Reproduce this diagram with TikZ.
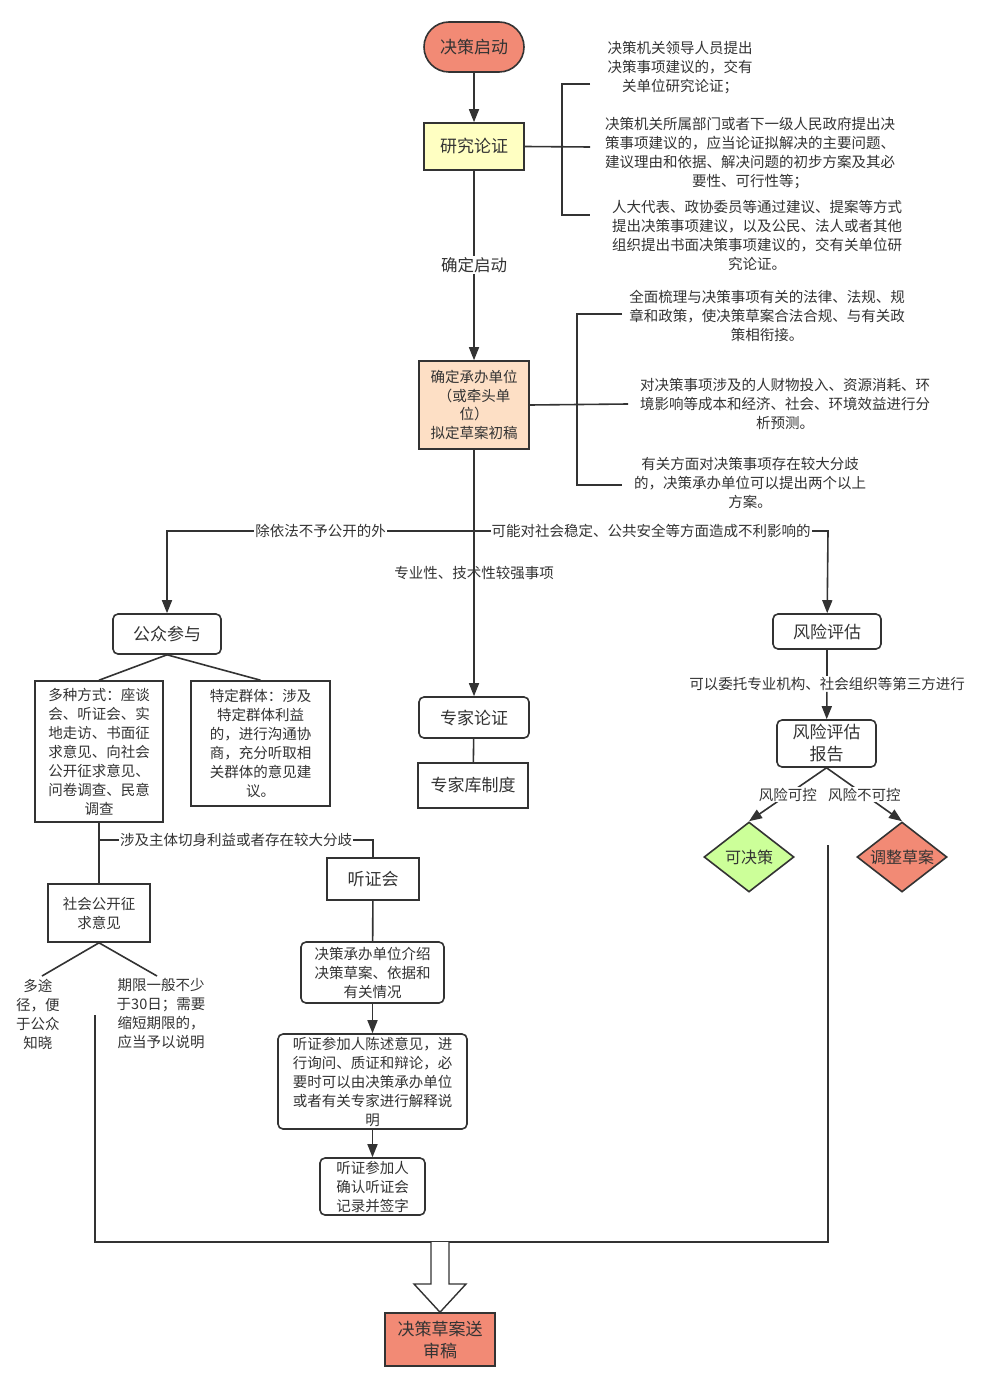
\documentclass[tikz,border=0pt]{standalone}
\usepackage{fontspec}
\setmainfont{Noto Sans CJK SC}
\usetikzlibrary{arrows.meta,shapes.geometric,calc}
\definecolor{salmon}{RGB}{242,138,117}
\definecolor{lyellow}{RGB}{255,255,194}
\definecolor{peach}{RGB}{253,223,197}
\definecolor{lgreen}{RGB}{204,255,153}
\definecolor{ink}{RGB}{51,51,51}
\newcommand\bodyfs{\fontsize{14.5}{19}\selectfont}
\newcommand\bigfs{\fontsize{17}{22}\selectfont}
\begin{document}
\begin{tikzpicture}[x=1pt,y=-1pt,
  line/.style={draw=ink,line width=1.6pt},
  arr/.style={line,-{Triangle[length=13pt,width=10pt]}},
  box/.style={line,fill=white,align=center,inner sep=0pt,text=ink,font=\bodyfs},
  rbox/.style={box,rounded corners=5pt},
  bigbox/.style={box,font=\bigfs},
  rbigbox/.style={rbox,font=\bigfs},
  txt/.style={align=center,inner sep=0pt,text=ink,font=\bodyfs},
  lab/.style={fill=white,inner sep=1pt,text=ink,font=\bodyfs},
  dia/.style={diamond,line,align=center,inner sep=0pt,text=ink,font=\fontsize{16}{20}\selectfont,minimum width=90pt,minimum height=70pt,aspect=1.29}
]
\useasboundingbox (0,0) rectangle (983,1380);
\fill[white] (0,0) rectangle (983,1380);

% top
\node[bigbox,fill=salmon,rounded corners=25pt,minimum width=100pt,minimum height=50pt] (start) at (474,47) {决策启动};
\node[bigbox,fill=lyellow,minimum width=100pt,minimum height=47pt] (yj) at (474,146.5) {研究论证};
\draw[arr] (start) -- (yj);

\coordinate (b1t) at (562,84);
\coordinate (b1b) at (562,215);
\coordinate (e1t) at (590,84);
\coordinate (e1m) at (590,147);
\coordinate (e1b) at (590,215);
\draw[line] (e1t) -- (b1t) -- (b1b) -- (e1b);
\draw[line] (yj.east) -- (e1m);
\node[txt] (t1) at (680,68) {决策机关领导人员提出\\决策事项建议的，交有\\关单位研究论证；};
\node[txt] (t2) at (750,153.5) {决策机关所属部门或者下一级人民政府提出决\\策事项建议的，应当论证拟解决的主要问题、\\建议理由和依据、解决问题的初步方案及其必\\要性、可行性等；};
\node[txt] (t3) at (757,235.5) {人大代表、政协委员等通过建议、提案等方式\\提出决策事项建议，以及公民、法人或者其他\\组织提出书面决策事项建议的，交有关单位研\\究论证。};

\node[lab,font=\fontsize{16.5}{20}\selectfont] (qd) at (474,265) {确定启动};
\draw[line] (yj) -- (qd);

\node[box,fill=peach,minimum width=110pt,minimum height=88pt,font=\fontsize{14.5}{18.5}\selectfont] (cb) at (474,405) {确定承办单位\\（或牵头单\\位）\\拟定草案初稿};
\draw[arr] (qd) -- (cb);

\coordinate (b2t) at (577,314);
\coordinate (b2b) at (577,485);
\coordinate (e2t) at (622,314);
\coordinate (e2m) at (628,404);
\coordinate (e2b) at (622,485);
\draw[line] (e2t) -- (b2t) -- (b2b) -- (e2b);
\draw[line] (cb.east) -- (e2m);
\node[txt] (t4) at (767,316) {全面梳理与决策事项有关的法律、法规、规\\章和政策，使决策草案合法合规、与有关政\\策相衔接。};
\node[txt] (t5) at (785,404) {对决策事项涉及的人财物投入、资源消耗、环\\境影响等成本和经济、社会、环境效益进行分\\析预测。};
\node[txt] (t6) at (750,483) {有关方面对决策事项存在较大分歧\\的，决策承办单位可以提出两个以上\\方案。};

% middle branch
\node[rbigbox,minimum width=110pt,minimum height=41pt] (zj) at (474,717.5) {专家论证};
\node[bigbox,minimum width=110pt,minimum height=45pt] (zk) at (473,785.5) {专家库制度};
\draw[arr] (cb) -- (zj);
\node[txt] (zy) at (474,573) {专业性、技术性较强事项};
\draw[line] (zj) -- (zk);

% horizontal split
\coordinate (hm) at (474,531);
\coordinate (hl) at (167,531);
\coordinate (hr) at (828,531);
\node[rbigbox,minimum width=108pt,minimum height=40pt] (gz) at (167,634) {公众参与};
\node[rbigbox,minimum width=108pt,minimum height=35pt] (fx) at (827,631.5) {风险评估};
\draw[arr] (hm) -- node[lab]{除依法不予公开的外} (hl) -- (gz);
\draw[arr] (hm) -- node[lab]{可能对社会稳定、公共安全等方面造成不利影响的} (hr) -- (fx);

% public participation
\node[box,minimum width=128pt,minimum height=141pt] (dz) at (99,751.5) {多种方式：座谈\\会、听证会、实\\地走访、书面征\\求意见、向社会\\公开征求意见、\\问卷调查、民意\\调查};
\node[box,minimum width=139pt,minimum height=125pt] (td) at (260.5,743.5) {特定群体：涉及\\特定群体利益\\的，进行沟通协\\商，充分听取相\\关群体的意见建\\议。};
\draw[line] (dz.north) -- (gz.south) -- (td.north);

\node[box,minimum width=102pt,minimum height=58pt] (sh) at (99,913) {社会公开征\\求意见};
\draw[line] (dz) -- (sh);
\node[bigbox,minimum width=92pt,minimum height=42pt] (tz) at (373,879) {听证会};
\coordinate (br) at (99,840);
\coordinate (brr) at (373,840);
\draw[line] (br) -- node[lab]{涉及主体切身利益或者存在较大分歧} (brr) -- (tz);

\coordinate (sl) at (42,976);
\coordinate (sr) at (157,976);
\draw[line] (sl) -- (sh.south) -- (sr);
\node[txt] (dt) at (38,1014) {多途\\径，便\\于公众\\知晓};
\node[txt] (qx) at (161,1014) {期限一般不少\\于30日；需要\\缩短期限的，\\应当予以说明};

% hearing
\node[rbox,minimum width=143pt,minimum height=61pt] (js) at (372.5,972.5) {决策承办单位介绍\\决策草案、依据和\\有关情况};
\node[rbox,minimum width=189pt,minimum height=95pt] (ty) at (372.5,1081.5) {听证参加人陈述意见，进\\行询问、质证和辩论，必\\要时可以由决策承办单位\\或者有关专家进行解释说\\明};
\node[rbox,minimum width=105pt,minimum height=57pt] (qr) at (372.5,1186.5) {听证参加人\\确认听证会\\记录并签字};
\draw[line] (tz) -- (js);
\draw[arr] (js) -- (ty);
\draw[arr] (ty) -- (qr);

% risk
\node[lab] (wt) at (827,684) {可以委托专业机构、社会组织等第三方进行};
\node[rbigbox,minimum width=99pt,minimum height=47pt] (bg) at (826.5,743.5) {风险评估\\报告};
\draw[line] (fx) -- (wt);
\draw[arr] (wt) -- (bg);
\node[dia,fill=lgreen] (kj) at (749,857) {可决策};
\node[dia,fill=salmon] (tc) at (902,857) {调整草案};
\draw[arr] (bg.south) -- node[lab]{风险可控} (kj.north);
\draw[arr] (bg.south) -- node[lab]{风险不可控} (tc.north);

% collection
\coordinate (c1) at (95,1015);
\coordinate (c2) at (95,1242);
\coordinate (c3) at (828,1242);
\coordinate (c4) at (828,845);
\draw[line] (c1) -- (c2) -- (c3) -- (c4);

\node[bigbox,fill=salmon,minimum width=110pt,minimum height=53pt] (fin) at (440,1339.5) {决策草案送\\审稿};
\draw[line,fill=white,line width=1.4pt] (431,1242) -- (431,1284) -- (414,1284) -- (fin.north) -- (466,1284) -- (449,1284) -- (449,1242);
\end{tikzpicture}
\end{document}
